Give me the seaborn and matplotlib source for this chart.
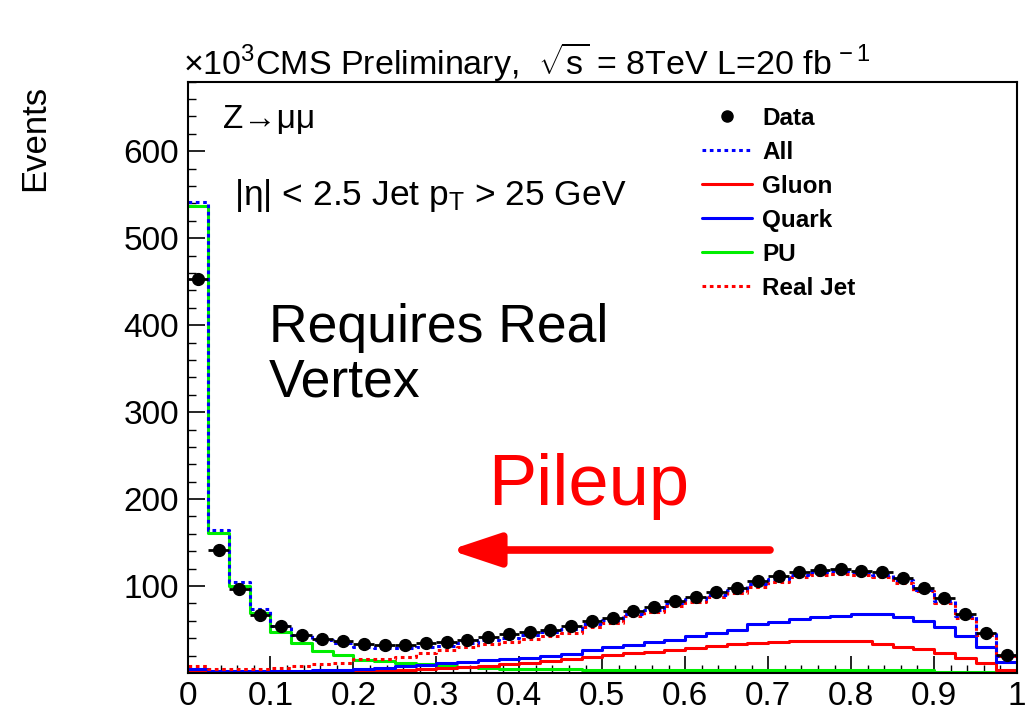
import numpy as np
import pandas as pd
import matplotlib
matplotlib.use("Agg")
import matplotlib.pyplot as plt
import seaborn as sns
from matplotlib.lines import Line2D
from matplotlib.ticker import MultipleLocator

# ---- Data (x10^3 events per bin, 40 bins from 0 to 1) ----
bin_edges = np.linspace(0, 1, 41)
bin_centers = 0.5 * (bin_edges[:-1] + bin_edges[1:])

data_vals = [453, 141, 97, 66.7, 54.4, 43.5, 38.7, 36.8, 33, 32,
             32, 34, 36, 38.5, 41.5, 44.5, 47.5, 49.5, 54, 59.8,
             63.6, 71.6, 76.2, 83, 87.7, 93.4, 97.3, 105.5, 111.9, 116.5,
             118.4, 119.5, 117.6, 115.7, 109.6, 98.1, 86.6, 67.4, 45.6, 20.7]
all_vals = [542, 165, 105, 73.5, 54, 43.5, 37.5, 34, 30.3, 29,
            29, 30.3, 31.4, 34, 38, 40, 44, 47, 51, 56,
            61, 68, 73, 80, 85, 90, 95, 102, 108, 113,
            116, 117, 116, 113, 107, 96, 83, 65, 45, 20]
gluon_vals = [2, 1, 1, 1, 1, 1, 1.5, 2, 2.5, 3,
              3.5, 4.5, 5.5, 6.5, 8, 10, 11, 14, 16.5, 18.8,
              20.7, 22.6, 24.5, 26.4, 28.3, 31, 33.5, 35, 35.5, 36.8,
              37, 37, 37, 33, 30.3, 27.2, 22.6, 17.6, 11, 3.4]
quark_vals = [5, 2.5, 2.5, 2.5, 2.5, 2.5, 3, 4, 5, 6,
              8, 9, 11, 13, 14.5, 16, 17, 19, 21.5, 26,
              29.5, 32, 36, 38, 42.5, 46, 49.5, 56, 59, 62,
              64.7, 66, 67.4, 67.4, 64, 60, 53, 43, 30, 13]
pu_vals = [537, 161, 100, 69, 47.5, 34.5, 25, 21, 15, 14,
           11, 10, 8, 6.5, 6, 5, 4.5, 4.5, 4.5, 3,
           3, 3, 3, 3, 3, 3, 3, 3, 3, 3,
           3, 3, 3, 3, 3, 3, 1, 1, 1, 1]
realjet_vals = [8.5, 4.5, 4.5, 5, 6, 8, 10, 11, 15.7, 15.7,
                18, 22.6, 26.4, 30.3, 33, 36, 39.5, 42.5, 46.5, 53,
                58, 65, 70, 77, 82, 87, 92, 99, 105, 110,
                113, 114, 113, 110, 104, 94, 81, 63, 44, 19]

xtick_labels = ["0", "0.1", "0.2", "0.3", "0.4", "0.5", "0.6", "0.7", "0.8", "0.9", "1"]
ytick_labels = ["", "100", "200", "300", "400", "500", "600"]

# ---- Style ----
sns.set_style("ticks")
plt.rcParams['font.family'] = ['Liberation Sans', 'DejaVu Sans']
plt.rcParams['mathtext.fontset'] = 'custom'
plt.rcParams['mathtext.rm'] = 'Liberation Sans'
plt.rcParams['mathtext.it'] = 'Liberation Sans'
for key in ['text.color', 'axes.labelcolor', 'xtick.color', 'ytick.color', 'axes.edgecolor']:
    plt.rcParams[key] = 'black'

W, H = 1025, 712
fig = plt.figure(figsize=(W / 100, H / 100), dpi=100)
ax = fig.add_axes([187.5 / W, 1 - 673 / H, (1017 - 187.5) / W, (673 - 81.7) / H])


def px(x, y):
    return x / W, 1 - y / H


dotted = (0, (1.2, 1.2))
series = [
    (pu_vals, '#00ee00', '-'),
    (gluon_vals, '#ff0000', '-'),
    (quark_vals, '#0000ff', '-'),
    (realjet_vals, '#ff0000', dotted),
    (all_vals, '#0000ff', dotted),
]
for vals, col, ls in series:
    df = pd.DataFrame({'x': bin_centers, 'w': vals})
    sns.histplot(data=df, x='x', weights='w', binwidth=0.025, binrange=(0, 1),
                 element='step', fill=False, color=col, linestyle=ls,
                 linewidth=2.2, ax=ax)

ax.errorbar(bin_centers, data_vals, xerr=0.0125, fmt='o', color='black',
            ms=8.5, elinewidth=2, capsize=0, zorder=10)

# ---- Axes ----
ax.set_xlim(0, 1)
ax.set_ylim(0, 680)
ax.set_xticks(np.linspace(0, 1, 11))
ax.set_xticklabels(xtick_labels)
ax.set_yticks(np.arange(0, 700, 100))
ax.set_yticklabels(ytick_labels)
ax.xaxis.set_minor_locator(MultipleLocator(0.02))
ax.yaxis.set_minor_locator(MultipleLocator(20))
ax.tick_params(axis='both', which='major', direction='in', length=12, width=1.2,
               labelsize=24, pad=6, colors='black')
ax.tick_params(axis='both', which='minor', direction='in', length=6, width=1.0)
ax.tick_params(axis='both', which='both', top=False, right=False)
for sp in ax.spines.values():
    sp.set_linewidth(1.5)
    sp.set_color('black')
    sp.set_visible(True)
ax.set_xlabel('')
ax.set_ylabel('')

# ---- Texts ----
fig.text(*px(35, 85), 'Events', rotation=90, ha='center', va='top', fontsize=25)
fig.text(*px(183, 75), r'$\times10^{3}$CMS Preliminary,  $\sqrt{s}$ = 8TeV L=20 fb$^{\,-1}$',
         ha='left', va='baseline', fontsize=24.5)
fig.text(*px(223, 120), 'Z→μμ', ha='left', va='center', fontsize=24,
         family=['Liberation Sans', 'DejaVu Sans'])
fig.text(*px(234, 205), r'|η| < 2.5 Jet p$_{T}$ > 25 GeV', ha='left', va='baseline',
         fontsize=25.5)
fig.text(*px(269, 397), 'Requires Real\nVertex', ha='left', va='baseline',
         fontsize=38.5, linespacing=1.13)
fig.text(*px(488, 505), 'Pileup', ha='left', va='baseline', fontsize=52, color='#ff0000')
ax.annotate('', xy=(450, H - 550), xytext=(770, H - 550),
            xycoords='figure pixels', textcoords='figure pixels',
            arrowprops=dict(arrowstyle='-|>,head_length=1.2,head_width=0.4',
                            color='#ff0000', lw=5.5, mutation_scale=25,
                            shrinkA=0, shrinkB=0))

# ---- Legend ----
handles = [
    Line2D([], [], color='black', marker='o', ls='none', ms=8),
    Line2D([], [], color='#0000ff', ls=dotted, lw=2.2),
    Line2D([], [], color='#ff0000', ls='-', lw=2.2),
    Line2D([], [], color='#0000ff', ls='-', lw=2.2),
    Line2D([], [], color='#00ee00', ls='-', lw=2.2),
    Line2D([], [], color='#ff0000', ls=dotted, lw=2.2),
]
labels = ['Data', 'All', 'Gluon', 'Quark', 'PU', 'Real Jet']
leg = fig.legend(handles, labels, loc='upper left', bbox_to_anchor=px(702, 107),
                 frameon=False, prop={'weight': 'bold', 'size': 17.5},
                 handlelength=2.05, handletextpad=0.42, labelspacing=0.45,
                 borderaxespad=0, borderpad=0)

fig.savefig('out.png', dpi=100)
